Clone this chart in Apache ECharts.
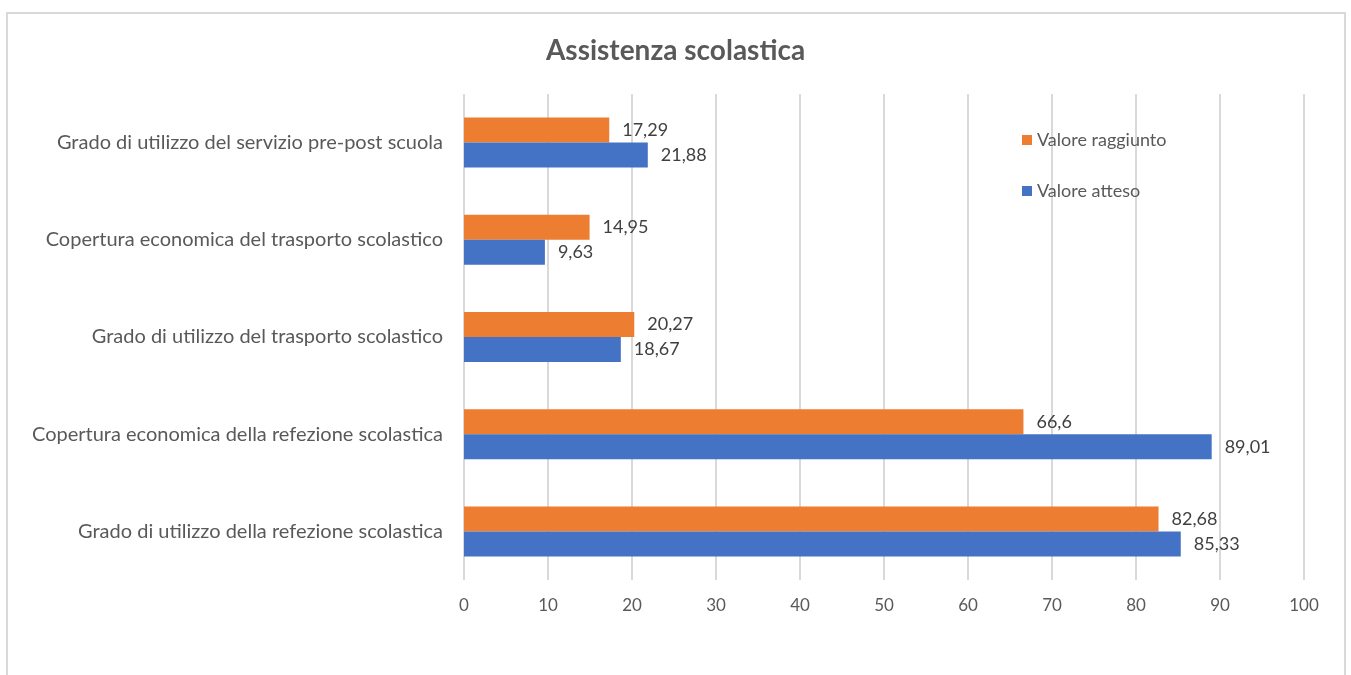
<!DOCTYPE html>
<html>
<head>
<meta charset="utf-8">
<script src="https://cdn.jsdelivr.net/npm/echarts@6/dist/echarts.min.js"></script>
<style>
  html, body { margin: 0; padding: 0; background: #ffffff; }
  #chart { width: 1351px; height: 675px; }
</style>
</head>
<body>
<div id="chart"></div>
<script>
// Categories listed bottom to top (category axis runs upward)
const categories = [
  "Grado di utilizzo della refezione scolastica",
  "Copertura economica della refezione scolastica",
  "Grado di utilizzo del trasporto scolastico",
  "Copertura economica del trasporto scolastico",
  "Grado di utilizzo del servizio pre-post scuola"
];
const valoreRaggiunto = [82.68, 66.6, 20.27, 14.95, 17.29];
const valoreAtteso = [85.33, 89.01, 18.67, 9.63, 21.88];
const xTicks = [0, 100, 10]; // min, max, interval

const FONT = "Lato, 'Open Sans', sans-serif";
const fmt = v => String(v).replace('.', ',');

const chart = echarts.init(document.getElementById('chart'), null, { renderer: 'canvas' });

const valueLabel = {
  show: true, position: 'right', distance: 13,
  formatter: p => fmt(p.value),
  fontFamily: FONT, fontSize: 18, color: '#404040'
};

chart.setOption({
  backgroundColor: '#ffffff',
  animation: false,
  title: {
    text: 'Assistenza scolastica',
    left: 'center',
    top: 32,
    textStyle: { fontFamily: FONT, fontSize: 28, fontWeight: 'bold', color: '#595959' }
  },
  graphic: [{
    type: 'rect',
    shape: { x: 7, y: 13, width: 1338, height: 720 },
    style: { fill: 'none', stroke: '#d9d9d9', lineWidth: 2 },
    silent: true,
    z: -1
  }],
  legend: {
    orient: 'vertical',
    left: 1017,
    top: 126,
    itemWidth: 10,
    itemHeight: 10,
    itemGap: 33,
    icon: 'rect',
    textStyle: { fontFamily: FONT, fontSize: 18, color: '#595959' },
    data: ['Valore raggiunto', 'Valore atteso']
  },
  grid: { left: 464, right: 47, top: 94, bottom: 95, containLabel: false },
  xAxis: {
    type: 'value',
    min: xTicks[0],
    max: xTicks[1],
    interval: xTicks[2],
    axisLine: { show: false },
    axisTick: { show: false },
    axisLabel: { fontFamily: FONT, fontSize: 17, color: '#595959', margin: 17 },
    splitLine: { show: true, lineStyle: { color: '#d9d9d9', width: 2 } }
  },
  yAxis: {
    type: 'category',
    data: categories,
    axisLine: { show: false },
    axisTick: { show: false },
    axisLabel: { fontFamily: FONT, fontSize: 20, color: '#595959', margin: 21 }
  },
  series: [
    {
      name: 'Valore raggiunto',
      type: 'bar',
      data: valoreRaggiunto,
      barWidth: 25,
      barGap: '0%',
      itemStyle: { color: '#ed7d31' },
      label: valueLabel
    },
    {
      name: 'Valore atteso',
      type: 'bar',
      data: valoreAtteso,
      barWidth: 25,
      barGap: '0%',
      itemStyle: { color: '#4472c4' },
      label: valueLabel
    }
  ]
});
</script>
</body>
</html>
